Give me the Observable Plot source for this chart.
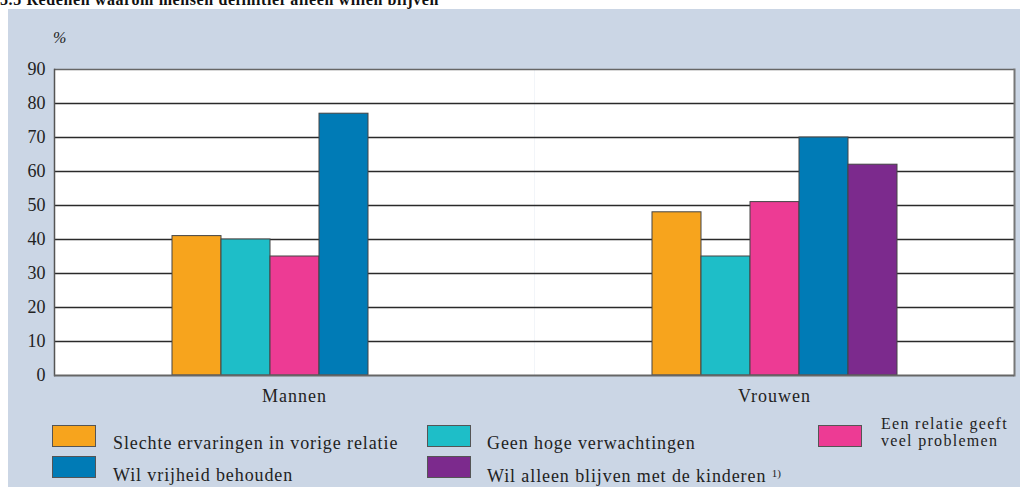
<!DOCTYPE html>
<html>
<head>
<meta charset="utf-8">
<script src="https://cdn.jsdelivr.net/npm/d3@7"></script>
<script src="https://cdn.jsdelivr.net/npm/@observablehq/plot@0.6"></script>
<style>
  html, body { margin: 0; padding: 0; background: #ffffff; }
  body { width: 1020px; height: 487px; position: relative; overflow: hidden; font-family: "Liberation Serif", "DejaVu Serif", serif; color: #222; }
  #title { position: absolute; left: 0; top: -9px; font-weight: bold; font-size: 16px; letter-spacing: 0.6px; white-space: nowrap; color: #111; }
  #panel { position: absolute; left: 8px; top: 9px; width: 1012px; height: 478px; background: #cbd6e5; }
  #chart { position: absolute; left: 0; top: 0; }
  #chart [aria-label^="fx-axis"] text { letter-spacing: 1px; }
  #pct { position: absolute; left: 45px; top: 20px; font-style: italic; font-size: 16px; }
  .sw { position: absolute; width: 44px; height: 22px; border: 1px solid #555; box-sizing: border-box; }
  .lt { position: absolute; font-family: "Liberation Serif", serif; font-size: 18px; letter-spacing: 0.9px; white-space: nowrap; line-height: 18px; }
  sup { font-size: 11px; vertical-align: 5px; letter-spacing: 0; }
</style>
</head>
<body>
<div id="title">5.5 Redenen waarom mensen definitief alleen willen blijven</div>
<div id="panel">
  <div id="chart"></div>
  <div id="pct">%</div>
  <div id="legend"></div>
</div>
<script>
const groups = ["Mannen", "Vrouwen"];
const categories = [
  "Slechte ervaringen in vorige relatie",
  "Geen hoge verwachtingen",
  "Een relatie geeft veel problemen",
  "Wil vrijheid behouden",
  "Wil alleen blijven met de kinderen"
];
const mannen = [41, 40, 35, 77, null];
const vrouwen = [48, 35, 51, 70, 62];
const colors = ["#f7a41d", "#1ebec8", "#ed3b94", "#007bb6", "#7c2a8d"];
const yTicks = [0, 10, 20, 30, 40, 50, 60, 70, 80, 90];

const seriesByGroup = {Mannen: mannen, Vrouwen: vrouwen};
const rows = [];
for (const g of groups) {
  categories.forEach((c, i) => {
    const v = seriesByGroup[g][i];
    if (v != null) rows.push({group: g, category: c, value: v});
  });
}

const chart = Plot.plot({
  width: 1012,
  height: 400,
  marginLeft: 46,
  marginRight: 6,
  marginTop: 60,
  marginBottom: 34,
  style: {background: "transparent", fontFamily: "'Liberation Serif', 'DejaVu Serif', serif", fontSize: "18px", color: "#222"},
  fx: {domain: groups, padding: 0, label: null, axis: "bottom", tickSize: 0, tickPadding: 14},
  x: {domain: categories, axis: null, paddingInner: 0, paddingOuter: (480 / 49 - 5) / 2},
  y: {domain: [0, 90], ticks: yTicks, tickSize: 0, tickPadding: 9, label: null},
  color: {domain: categories, range: colors},
  marks: [
    Plot.frame({fill: "white", stroke: null}),
    Plot.ruleY(yTicks.filter(d => d > 0 && d < 90), {stroke: "#2a2a2a", strokeWidth: 1.3}),
    Plot.ruleY([90], {stroke: "#666", strokeWidth: 1.5}),
    Plot.frame({anchor: "left", facetAnchor: "left", stroke: "#555", strokeWidth: 1.5}),
    Plot.frame({anchor: "right", facetAnchor: "right", stroke: "#777", strokeWidth: 2}),
    Plot.barY(rows, {fx: "group", x: "category", y: "value", fill: "category", stroke: "#444", strokeWidth: 1}),
    Plot.ruleY([0], {stroke: "#666", strokeWidth: 2})
  ]
});
document.getElementById("chart").appendChild(chart);

// legend (positions relative to panel)
const legendItems = [
  {i: 0, sx: 44, sy: 416, tx: 105, ty: 425, html: categories[0]},
  {i: 1, sx: 419, sy: 416, tx: 479, ty: 425, html: categories[1]},
  {i: 2, sx: 810, sy: 416, tx: 873, ty: 407, html: "Een relatie geeft", fs: 16},
  {i: -1, tx: 873, ty: 424, html: "veel problemen", fs: 16},
  {i: 3, sx: 44, sy: 447, tx: 105, ty: 457, html: categories[3]},
  {i: 4, sx: 419, sy: 447, tx: 479, ty: 455, html: categories[4] + " <sup>1)</sup>"}
];
const legend = document.getElementById("legend");
for (const it of legendItems) {
  if (it.i >= 0) {
    const sw = document.createElement("div");
    sw.className = "sw";
    sw.style.left = it.sx + "px";
    sw.style.top = it.sy + "px";
    sw.style.background = colors[it.i];
    legend.appendChild(sw);
  }
  const t = document.createElement("div");
  t.className = "lt";
  t.style.left = it.tx + "px";
  t.style.top = it.ty + "px";
  if (it.fs) { t.style.fontSize = it.fs + "px"; t.style.lineHeight = "16px"; t.style.letterSpacing = "1.3px"; }
  t.innerHTML = it.html;
  legend.appendChild(t);
}
</script>
</body>
</html>
